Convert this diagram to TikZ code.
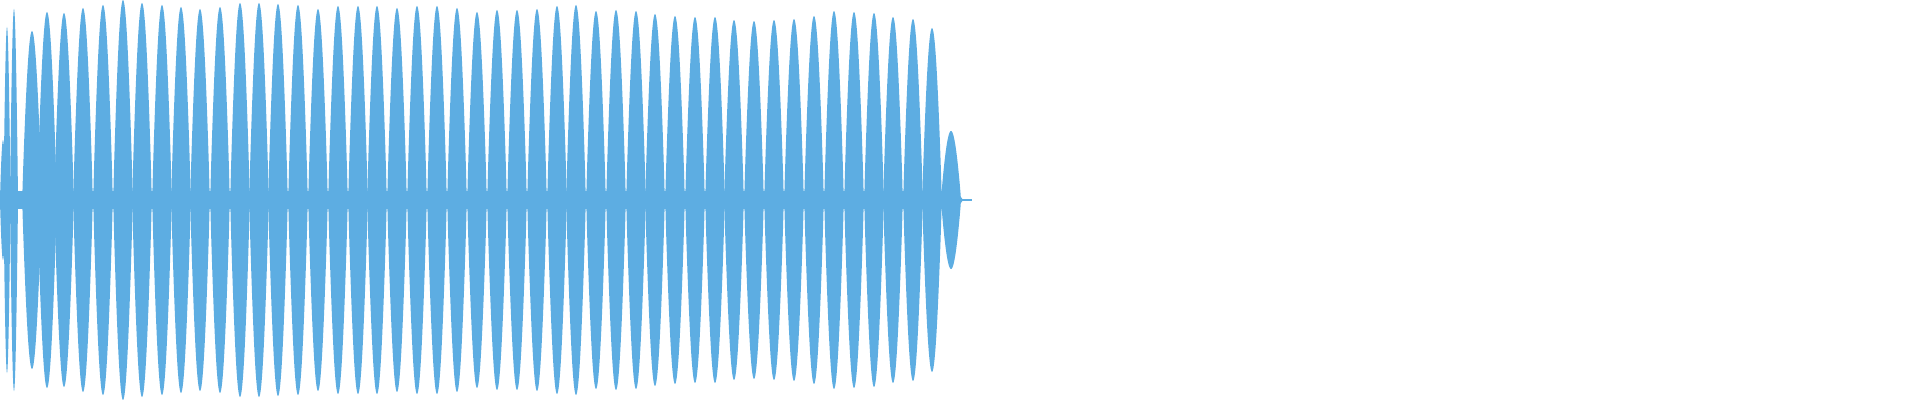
\documentclass[tikz,border=0pt]{standalone}
\definecolor{wave}{HTML}{5DADE2}
\begin{document}
\begin{tikzpicture}[x=0.5pt,y=-0.5pt]
\useasboundingbox (0,0) rectangle (1920,400);
\tikzset{wavefill/.style={fill=wave}}
\fill[wavefill] (0,191) rectangle (948,209);
\fill[wavefill] (948,191) -- (962,198) -- (962,202) -- (948,209) -- cycle;
\draw[wave,line width=0.6pt] (962,200) -- (972,200);
\foreach \p/\t/\w in {3/140/3,7/27/3.5,14/9/4,32/31/9.8,47/12/9.8,64/13/9.8,83/8/9.8,103/5/9.8,123/0/9.8,142/3/9.8,162/5/9.8,181/7/9.8,200/9/9.8,220/7/9.8,240/3/9.8,259/3/9.8,278/4/9.8,298/5/9.8,318/9/9.8,338/6/9.8,358/6/9.8,377/6/9.8,397/8/9.8,417/6/9.8,437/6/9.8,457/8/9.8,477/12/9.8,497/10/9.8,517/10/9.8,537/9/9.8,557/6/9.8,576/5/9.8,596/11/9.8,616/10/9.8,636/11/9.8,655/14/9.8,675/16/9.8,695/17/9.8,715/17/9.8,734/20/9.8,754/21/9.8,774/20/9.8,794/19/9.8,814/16/9.8,834/11/9.8,854/12/9.8,874/13/9.8,893/17/9.8,913/19/9.8,932/28/9.8,951/131/10}{
  \pgfmathsetmacro\amp{200-\t}
  \fill[wavefill] plot[domain=-1:1,samples=31,smooth] ({\p+\w*\x},{200-\amp*abs(cos(90*\x))^0.9}) -- cycle;
  \fill[wavefill] plot[domain=-1:1,samples=31,smooth] ({\p+\w*\x},{200+\amp*abs(cos(90*\x))^0.9}) -- cycle;
}
\end{tikzpicture}
\end{document}
